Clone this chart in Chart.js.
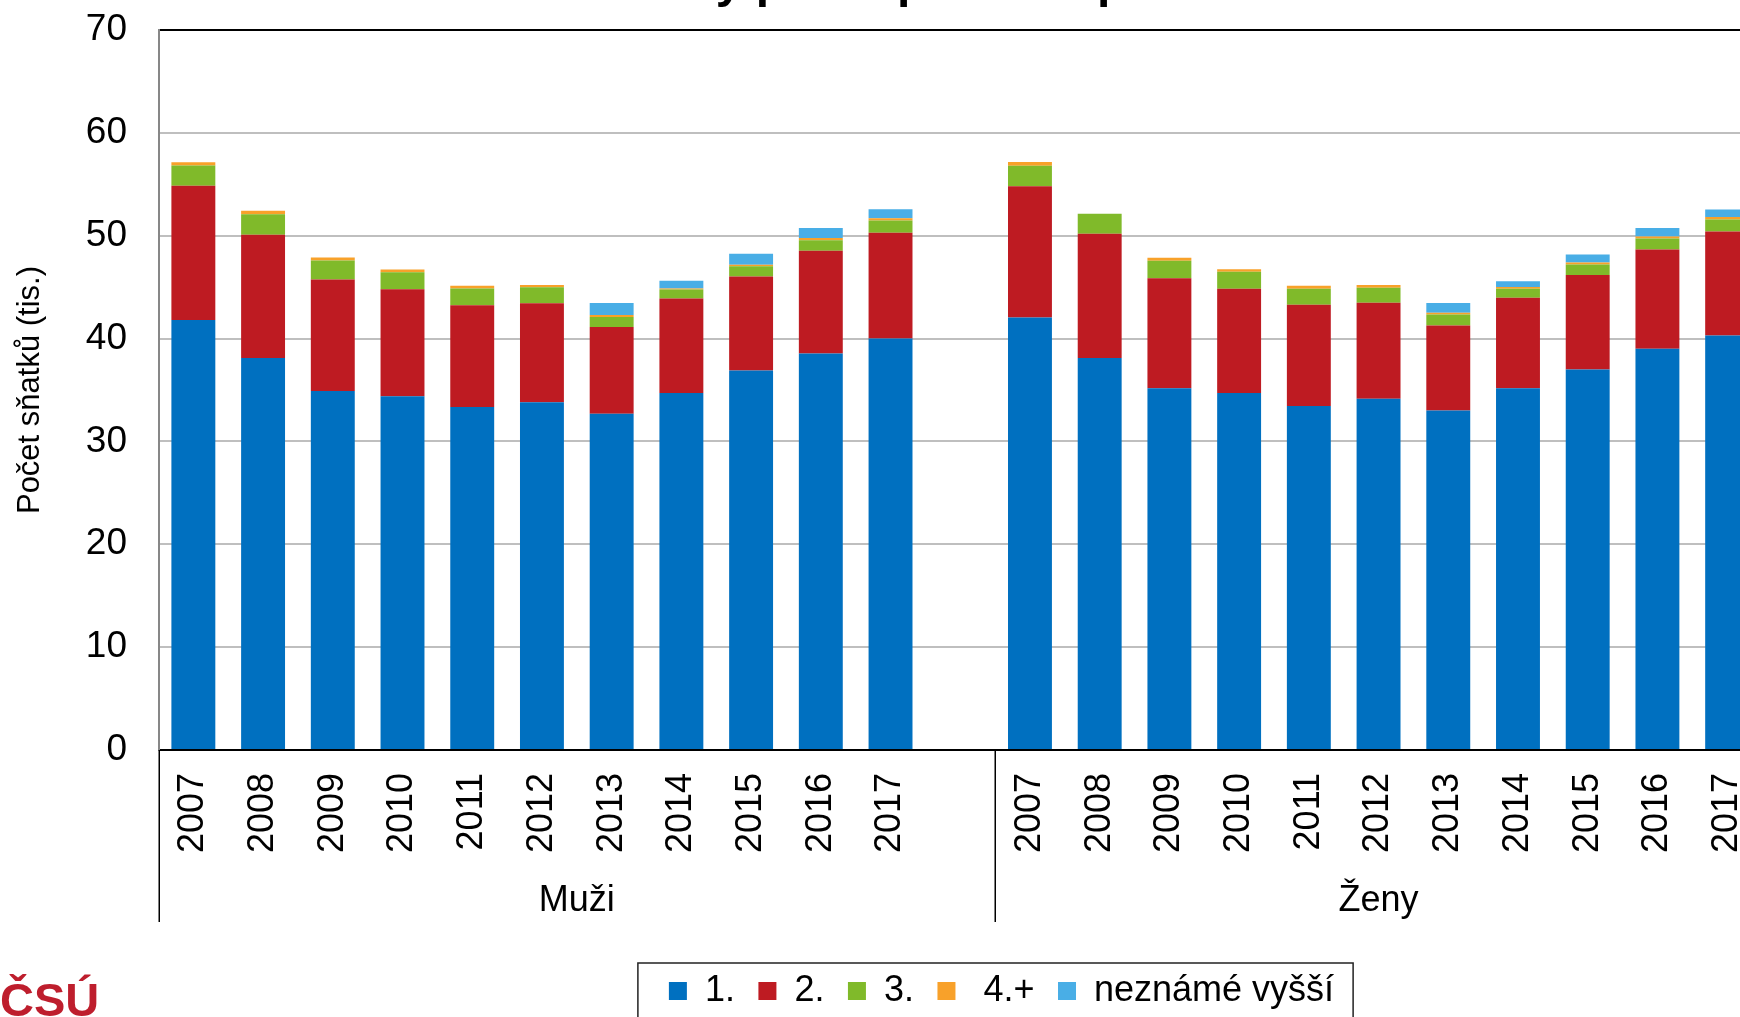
<!DOCTYPE html>
<html>
<head>
<meta charset="utf-8">
<script src="https://cdn.jsdelivr.net/npm/chart.js@4.4.1/dist/chart.umd.min.js"></script>
<style>
html,body{margin:0;padding:0;background:#fff;overflow:hidden;width:1740px;height:1017px;}
#wrap{position:absolute;left:0;top:0;width:2003px;height:1019px;}
canvas{display:block;}
</style>
</head>
<body>
<div id="wrap"><canvas id="c" width="2003" height="1019" style="width:2003px;height:1019px"></canvas></div>
<script>
// ---- data (thousands of marriages) ----
const years = ['2007','2008','2009','2010','2011','2012','2013','2014','2015','2016','2017'];
const groups = ['Muži', 'Ženy'];
const seriesNames = ['1.', '2.', '3.', ' 4.+', 'neznámé vyšší'];
const yTicks = [0, 10, 20, 30, 40, 50, 60, 70];
const yTitle = 'Počet sňatků (tis.)';
const chartTitle = 'Sňatky podle pořadí a pohlaví';
const logoText = 'ČSÚ';

const muzi1 = [41.8, 38.1, 34.9, 34.4, 33.35, 33.8, 32.7, 34.7, 36.9, 38.55, 40.0];
const muzi2 = [13.05, 12.0, 10.85, 10.4, 9.9, 9.63, 8.43, 9.2, 9.14, 9.99, 10.3];
const muzi3 = [1.98, 1.98, 1.85, 1.65, 1.62, 1.55, 0.97, 0.87, 1.0, 1.03, 1.17];
const muzi4 = [0.32, 0.35, 0.29, 0.26, 0.26, 0.23, 0.19, 0.1, 0.13, 0.2, 0.22];
const muziU = [0, 0, 0, 0, 0, 0, 1.17, 0.75, 1.07, 0.97, 0.88];

const zeny1 = [42.06, 38.1, 35.16, 34.7, 33.44, 34.16, 33.0, 35.16, 37.0, 39.0, 40.3];
const zeny2 = [12.74, 12.09, 10.7, 10.14, 9.86, 9.33, 8.26, 8.82, 9.17, 9.65, 10.12];
const zeny3 = [2.01, 1.94, 1.71, 1.65, 1.55, 1.46, 1.07, 0.87, 1.04, 1.07, 1.16];
const zeny4 = [0.36, 0, 0.29, 0.26, 0.29, 0.26, 0.17, 0.16, 0.19, 0.2, 0.23];
const zenyU = [0, 0, 0, 0, 0, 0, 0.97, 0.56, 0.78, 0.84, 0.75];

const colors = ['#0070C0', '#BE1B22', '#80BA2A', '#F8A12A', '#49AEE6'];

// ---- build category table: Muži (11 years + empty slot), Ženy (11 years) ----
const categories = [...years, '', ...years];
const join = (a, b) => [...a, null, ...b];
const seriesData = [
  join(muzi1, zeny1),
  join(muzi2, zeny2),
  join(muzi3, zeny3),
  join(muzi4, zeny4),
  join(muziU, zenyU)
];
const groupSpans = [[0, years.length + 1], [years.length + 1, categories.length]];

const FONT = "'Liberation Sans', Arial, Helvetica, sans-serif";
Chart.defaults.font.family = FONT;
Chart.defaults.color = '#000';

const decor = {
  id: 'decor',
  afterDraw(chart) {
    const ctx = chart.ctx;
    const xs = chart.scales.x;
    const step = (xs.right - xs.left) / categories.length;
    ctx.save();
    // group separators and group labels
    ctx.strokeStyle = '#000';
    ctx.lineWidth = 1.5;
    const bounds = [0, groupSpans[0][1], categories.length];
    bounds.forEach(b => {
      const x = Math.round(xs.left + b * step) + 0.25;
      ctx.beginPath();
      ctx.moveTo(x, xs.top);
      ctx.lineTo(x, xs.top + 172);
      ctx.stroke();
    });
    ctx.fillStyle = '#000';
    ctx.font = '36px ' + FONT;
    ctx.textAlign = 'center';
    ctx.textBaseline = 'middle';
    groups.forEach((g, i) => {
      const [a, b] = groupSpans[i];
      ctx.fillText(g, xs.left + (a + b) / 2 * step, xs.top + 151);
    });
    // legend border
    const lg = chart.legend;
    if (lg && lg.legendHitBoxes && lg.legendHitBoxes.length) {
      const hb = lg.legendHitBoxes;
      const first = hb[0], last = hb[hb.length - 1];
      const cy = first.top + first.height / 2;
      ctx.strokeStyle = '#222';
      ctx.lineWidth = 1.5;
      ctx.strokeRect(first.left - 31, cy - 28, (last.left + last.width + 19) - (first.left - 31), 60);
    }
    // title (mostly above the visible area)
    ctx.font = 'bold 48px ' + FONT;
    ctx.textAlign = 'left';
    ctx.textBaseline = 'alphabetic';
    ctx.fillText(chartTitle, 585, -3);
    // logo
    ctx.fillStyle = '#BE1E2D';
    ctx.font = 'bold 47px ' + FONT;
    ctx.fillText(logoText, 0, 1016);
    ctx.restore();
  }
};

new Chart(document.getElementById('c'), {
  type: 'bar',
  data: {
    labels: categories,
    datasets: seriesNames.map((name, i) => ({
      label: name,
      data: seriesData[i],
      backgroundColor: colors[i],
      borderWidth: 0,
      categoryPercentage: 1,
      barPercentage: 0.63,
      stack: 's'
    }))
  },
  options: {
    responsive: false,
    animation: false,
    devicePixelRatio: 1,
    layout: { padding: { top: 30, left: 0, right: 0, bottom: 0 } },
    plugins: {
      legend: {
        position: 'bottom',
        align: 'center',
        labels: { font: { size: 36, family: FONT }, color: '#000', boxWidth: 18, boxHeight: 18, padding: 23.5 }
      },
      title: { display: false },
      tooltip: { enabled: false }
    },
    scales: {
      x: {
        stacked: true,
        offset: true,
        grid: { display: false, drawTicks: false },
        border: { display: true, color: '#000', width: 2 },
        ticks: { font: { size: 36 }, color: '#000', minRotation: 90, maxRotation: 90, autoSkip: false, padding: 23 },
        afterFit(s) { s.height = 199.5; }
      },
      y: {
        stacked: true,
        min: yTicks[0],
        max: yTicks[yTicks.length - 1],
        ticks: { stepSize: 10, font: { size: 37 }, color: '#000', padding: 6 },
        grid: {
          color: c => (c.tick && c.tick.value === yTicks[yTicks.length - 1]) ? '#000' : '#BFBFBF',
          lineWidth: 2,
          drawTicks: true,
          tickLength: 25.5,
          tickColor: 'rgba(0,0,0,0)'
        },
        border: { color: '#878787', width: 2 },
        title: { display: true, text: yTitle, font: { size: 31 }, color: '#000', padding: { top: 12, bottom: 0 } },
        afterFit(s) { s.width = 158.5; }
      },
      yr: {
        position: 'right',
        display: true,
        grid: { display: false, drawTicks: false },
        border: { display: false },
        ticks: { display: false },
        afterFit(s) { s.width = 241; }
      }
    }
  },
  plugins: [decor]
});
</script>
</body>
</html>
